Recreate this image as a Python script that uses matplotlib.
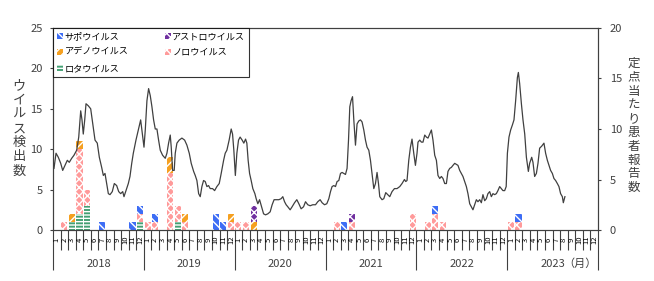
import numpy as np
import matplotlib.pyplot as plt

plt.rcParams['font.family'] = ['Noto Sans CJK JP', 'DejaVu Sans']
plt.rcParams['hatch.linewidth'] = 1.0

years = ['2018', '2019', '2020', '2021', '2022', '2023']
month_labels = [str(m) for m in range(1, 13)] * len(years)

# 月別ウイルス検出数 (2018/1 - 2023/12), one row per year
rota = [0, 0, 1, 2, 3, 0, 0, 0, 0, 0, 0, 1,
        0, 0, 0, 0, 1, 0, 0, 0, 0, 0, 0, 0,
        0, 0, 0, 0, 0, 0, 0, 0, 0, 0, 0, 0,
        0, 0, 0, 0, 0, 0, 0, 0, 0, 0, 0, 0,
        0, 0, 0, 0, 0, 0, 0, 0, 0, 0, 0, 0,
        0, 0, 0, 0, 0, 0, 0, 0, 0, 0, 0, 0]
noro = [0, 1, 0, 8, 2, 0, 0, 0, 0, 0, 0, 1,
        1, 1, 0, 7, 2, 1, 0, 0, 0, 0, 0, 1,
        1, 1, 0, 0, 0, 0, 0, 0, 0, 0, 0, 0,
        0, 1, 0, 1, 0, 0, 0, 0, 0, 0, 0, 2,
        0, 1, 2, 1, 0, 0, 0, 0, 0, 0, 0, 0,
        1, 1, 0, 0, 0, 0, 0, 0, 0, 0, 0, 0]
adeno = [0, 0, 1, 1, 0, 0, 0, 0, 0, 0, 0, 0,
         0, 0, 0, 2, 0, 1, 0, 0, 0, 0, 0, 1,
         0, 0, 1, 0, 0, 0, 0, 0, 0, 0, 0, 0,
         0, 0, 0, 0, 0, 0, 0, 0, 0, 0, 0, 0,
         0, 0, 0, 0, 0, 0, 0, 0, 0, 0, 0, 0,
         0, 0, 0, 0, 0, 0, 0, 0, 0, 0, 0, 0]
astro = [0, 0, 0, 0, 0, 0, 0, 0, 0, 0, 0, 0,
         0, 0, 0, 0, 0, 0, 0, 0, 0, 0, 0, 0,
         0, 0, 2, 0, 0, 0, 0, 0, 0, 0, 0, 0,
         0, 0, 0, 1, 0, 0, 0, 0, 0, 0, 0, 0,
         0, 0, 0, 0, 0, 0, 0, 0, 0, 0, 0, 0,
         0, 0, 0, 0, 0, 0, 0, 0, 0, 0, 0, 0]
sapo = [0, 0, 0, 0, 0, 0, 1, 0, 0, 0, 1, 1,
        0, 1, 0, 0, 0, 0, 0, 0, 0, 2, 1, 0,
        0, 0, 0, 0, 0, 0, 0, 0, 0, 0, 0, 0,
        0, 0, 1, 0, 0, 0, 0, 0, 0, 0, 0, 0,
        0, 0, 1, 0, 0, 0, 0, 0, 0, 0, 0, 0,
        0, 1, 0, 0, 0, 0, 0, 0, 0, 0, 0, 0]

# 定点当たり患者報告数 (週別), time in months since 2018/1
rep_month = [0.13, 0.40, 0.70, 1.02, 1.28, 1.59, 1.89, 2.15, 2.47, 2.77, 3.13, 3.40,
             3.66, 3.83, 4.00, 4.19, 4.36, 4.66, 4.98, 5.25, 5.55, 5.85, 6.12, 6.43,
             6.65, 6.87, 7.09, 7.31, 7.53, 7.83, 8.10, 8.41, 8.68, 8.94, 9.21, 9.38,
             9.64, 9.95, 10.17, 10.40, 10.61, 10.96, 11.27, 11.58, 11.85, 12.02, 12.19, 12.41,
             12.63, 12.85, 13.07, 13.29, 13.51, 13.73, 13.95, 14.17, 14.48, 14.83, 15.05, 15.27,
             15.49, 15.62, 15.80, 16.01, 16.15, 16.37, 16.67, 17.03, 17.39, 17.69, 18.00, 18.26,
             18.58, 18.79, 19.01, 19.24, 19.45, 19.67, 19.89, 20.11, 20.33, 20.55, 20.77, 21.08,
             21.35, 21.65, 21.96, 22.22, 22.54, 22.75, 22.97, 23.27, 23.54, 23.72, 23.89, 24.09,
             24.29, 24.51, 24.72, 24.99, 25.21, 25.44, 25.61, 25.78, 25.97, 26.18, 26.40, 26.67,
             26.84, 27.06, 27.29, 27.55, 27.82, 28.08, 28.38, 28.69, 28.95, 29.21, 29.48, 29.84,
             30.14, 30.36, 30.59, 30.80, 31.02, 31.33, 31.59, 31.91, 32.21, 32.48, 32.78, 33.10,
             33.36, 33.66, 33.97, 34.32, 34.68, 34.98, 35.29, 35.55, 35.87, 36.17, 36.44, 36.66,
             36.87, 37.10, 37.32, 37.53, 37.76, 37.98, 38.19, 38.42, 38.64, 38.85, 39.04, 39.21,
             39.38, 39.57, 39.74, 39.96, 40.17, 40.40, 40.62, 40.83, 41.06, 41.28, 41.49, 41.72,
             41.94, 42.15, 42.38, 42.60, 42.81, 43.00, 43.17, 43.47, 43.70, 43.96, 44.22, 44.49,
             44.79, 45.11, 45.45, 45.81, 46.11, 46.43, 46.60, 46.77, 47.00, 47.22, 47.43, 47.66,
             47.88, 48.09, 48.22, 48.45, 48.67, 48.88, 49.11, 49.33, 49.54, 49.77, 49.99, 50.20,
             50.43, 50.65, 50.86, 51.09, 51.31, 51.52, 51.75, 51.97, 52.18, 52.41, 52.63, 52.84,
             53.07, 53.29, 53.50, 53.73, 53.95, 54.16, 54.39, 54.61, 54.82, 55.05, 55.27, 55.48,
             55.71, 55.93, 56.14, 56.37, 56.59, 56.80, 57.03, 57.25, 57.46, 57.69, 57.91, 58.12,
             58.35, 58.57, 58.78, 59.01, 59.23, 59.44, 59.67, 59.87, 60.03, 60.24, 60.46, 60.69,
             60.90, 61.12, 61.35, 61.48, 61.65, 61.88, 62.09, 62.32, 62.54, 62.80, 62.97, 63.24,
             63.41, 63.63, 63.86, 64.07, 64.29, 64.56, 64.86, 65.08, 65.31, 65.52, 65.74, 65.97,
             66.18, 66.40, 66.63, 66.84, 67.06, 67.29, 67.42, 67.63]
rep_value = [6.1, 7.6, 7.2, 6.6, 5.9, 6.4, 6.9, 6.7, 7.1, 7.4, 7.9, 9.2,
             11.8, 10.9, 9.5, 10.9, 12.5, 12.3, 12.0, 10.5, 8.9, 8.6, 7.2, 6.2,
             5.4, 5.6, 4.6, 3.6, 3.5, 3.8, 4.6, 4.4, 3.8, 3.6, 3.8, 3.3,
             3.9, 4.6, 5.3, 6.6, 7.6, 8.9, 9.9, 10.9, 9.2, 8.2, 9.9, 12.8,
             14.0, 13.3, 12.2, 10.9, 10.0, 10.0, 8.9, 7.9, 7.4, 7.1, 7.6, 8.6,
             9.4, 8.2, 5.9, 5.9, 7.6, 8.6, 8.9, 9.1, 8.9, 8.4, 7.6, 6.6,
             5.8, 5.4, 4.9, 3.6, 3.3, 4.3, 4.9, 4.8, 4.3, 4.4, 4.1, 4.1,
             3.9, 4.3, 4.6, 5.6, 6.9, 7.6, 7.9, 8.9, 10.0, 9.5, 7.9, 5.4,
             7.6, 8.9, 9.2, 8.9, 8.6, 9.0, 8.6, 6.9, 5.6, 4.9, 4.1, 3.6,
             3.1, 2.6, 3.0, 2.3, 1.6, 1.5, 1.6, 1.8, 2.5, 3.0, 3.0, 3.0,
             3.1, 3.3, 2.8, 2.5, 2.3, 2.0, 2.3, 2.7, 3.0, 2.6, 2.1, 2.3,
             2.8, 2.5, 2.4, 2.5, 2.5, 2.8, 3.0, 2.7, 2.5, 2.6, 3.1, 3.8,
             4.3, 4.4, 4.3, 4.8, 4.9, 5.6, 5.7, 5.6, 5.5, 6.1, 8.9, 12.2,
             12.8, 13.2, 10.9, 8.4, 10.5, 10.8, 10.9, 10.7, 9.9, 8.9, 8.2, 7.9,
             6.9, 5.6, 4.1, 4.6, 5.7, 4.6, 3.3, 3.0, 3.1, 3.7, 3.5, 3.3,
             3.8, 4.1, 4.1, 4.3, 4.6, 5.0, 4.8, 4.9, 6.9, 8.2, 9.0, 7.6,
             6.4, 7.6, 8.7, 8.9, 8.7, 8.7, 9.4, 9.2, 9.1, 9.5, 9.9, 8.9,
             7.4, 6.9, 5.4, 5.1, 5.3, 5.1, 4.6, 4.6, 5.8, 6.1, 6.2, 6.4,
             6.6, 6.5, 6.4, 5.9, 5.6, 5.3, 4.8, 4.3, 3.6, 2.6, 2.3, 2.0,
             2.5, 3.0, 2.8, 3.0, 2.7, 3.5, 2.9, 3.1, 3.6, 3.8, 3.3, 3.6,
             3.5, 3.6, 3.9, 4.3, 4.1, 3.9, 3.9, 4.3, 7.6, 9.2, 9.9, 10.4,
             10.9, 12.8, 15.1, 15.6, 14.5, 12.5, 10.9, 9.5, 7.2, 5.8, 6.6, 7.2,
             6.7, 5.3, 5.6, 6.6, 8.1, 8.3, 8.6, 7.6, 6.9, 6.4, 5.9, 5.6,
             5.1, 4.9, 4.6, 4.3, 3.6, 3.3, 2.7, 3.3]

W, H = 654, 281
fig = plt.figure(figsize=(W / 100, H / 100), dpi=100)
ax = fig.add_axes([53 / W, 1 - 230 / H, 545 / W, 202 / H])

text_c = '#404040'
x = np.arange(len(month_labels)) + 0.5
bottom = np.zeros(len(x))
# stacking order bottom -> top
series = [('ロタウイルス', rota, '#44a074', '-----'),
          ('ノロウイルス', noro, '#ff9a9a', 'xxxx'),
          ('アデノウイルス', adeno, '#f5a020', '////'),
          ('アストロウイルス', astro, '#7030a0', 'xxxx'),
          ('サポウイルス', sapo, '#3d6df5', '\\\\\\\\')]
bars = {}
for name, vals, col, hat in series:
    v = np.array(vals, dtype=float)
    bars[name] = ax.bar(x, v, 0.8, bottom=bottom, color=col, edgecolor='white',
                        hatch=hat, linewidth=0, label=name)
    bottom += v

ax.set_xlim(0, 72)
ax.set_ylim(0, 25)
ax.set_yticks(range(0, 26, 5))
ax.set_xticks(range(0, 73, 12))
ax.set_xticks(range(0, 73), minor=True)
ax.tick_params(axis='x', which='major', length=29, width=0.8, color=text_c, labelbottom=False)
ax.tick_params(axis='x', which='minor', length=14.5, width=0.8, color=text_c)
ax.tick_params(axis='y', length=2.5, width=0.8, color=text_c, labelsize=8, labelcolor=text_c, pad=5)
for s in ax.spines.values():
    s.set_color(text_c)
    s.set_linewidth(0.8)

xt = ax.get_xaxis_transform()
for i, lab in enumerate(month_labels):
    ax.text(i + 0.5, -10 / 202, lab, rotation=90, fontsize=5.5, ha='center', va='center',
            transform=xt, color='black')
for k, yr in enumerate(years):
    ax.text(12 * k + 6, -34 / 202, yr, ha='center', va='center', fontsize=8,
            transform=xt, color=text_c)
ax.text(71.8, -34 / 202, '（月）', ha='right', va='center', fontsize=8, transform=xt, color=text_c)

ax2 = ax.twinx()
ax2.plot(rep_month, rep_value, color='#404040', lw=0.9)
ax2.set_ylim(0, 20)
ax2.set_yticks(range(0, 21, 5))
ax2.tick_params(axis='y', length=2.5, width=0.8, color=text_c, labelsize=8, labelcolor=text_c, pad=6)
for s in ax2.spines.values():
    s.set_color(text_c)
    s.set_linewidth(0.8)

order = ['サポウイルス', 'アデノウイルス', 'ロタウイルス', 'アストロウイルス', 'ノロウイルス']
leg = ax2.legend([bars[n] for n in order], order, loc='upper left', ncol=2, fontsize=6.6,
                 frameon=True, fancybox=False, edgecolor='black', borderaxespad=0,
                 handlelength=0.6, handleheight=0.6, handletextpad=0.2, columnspacing=4.0,
                 labelspacing=0.75, borderpad=0.45)
leg.get_frame().set_linewidth(0.8)

fig.text(19 / W, 1 - 128.5 / H, '\n'.join('ウイルス検出数'), ha='center', va='center',
         fontsize=9.5, linespacing=1.12, color=text_c)
fig.text(634 / W, 1 - 125.5 / H, '\n'.join('定点当たり患者報告数'), ha='center', va='center',
         fontsize=9, linespacing=1.08, color=text_c)

fig.savefig('out.png', dpi=100)
